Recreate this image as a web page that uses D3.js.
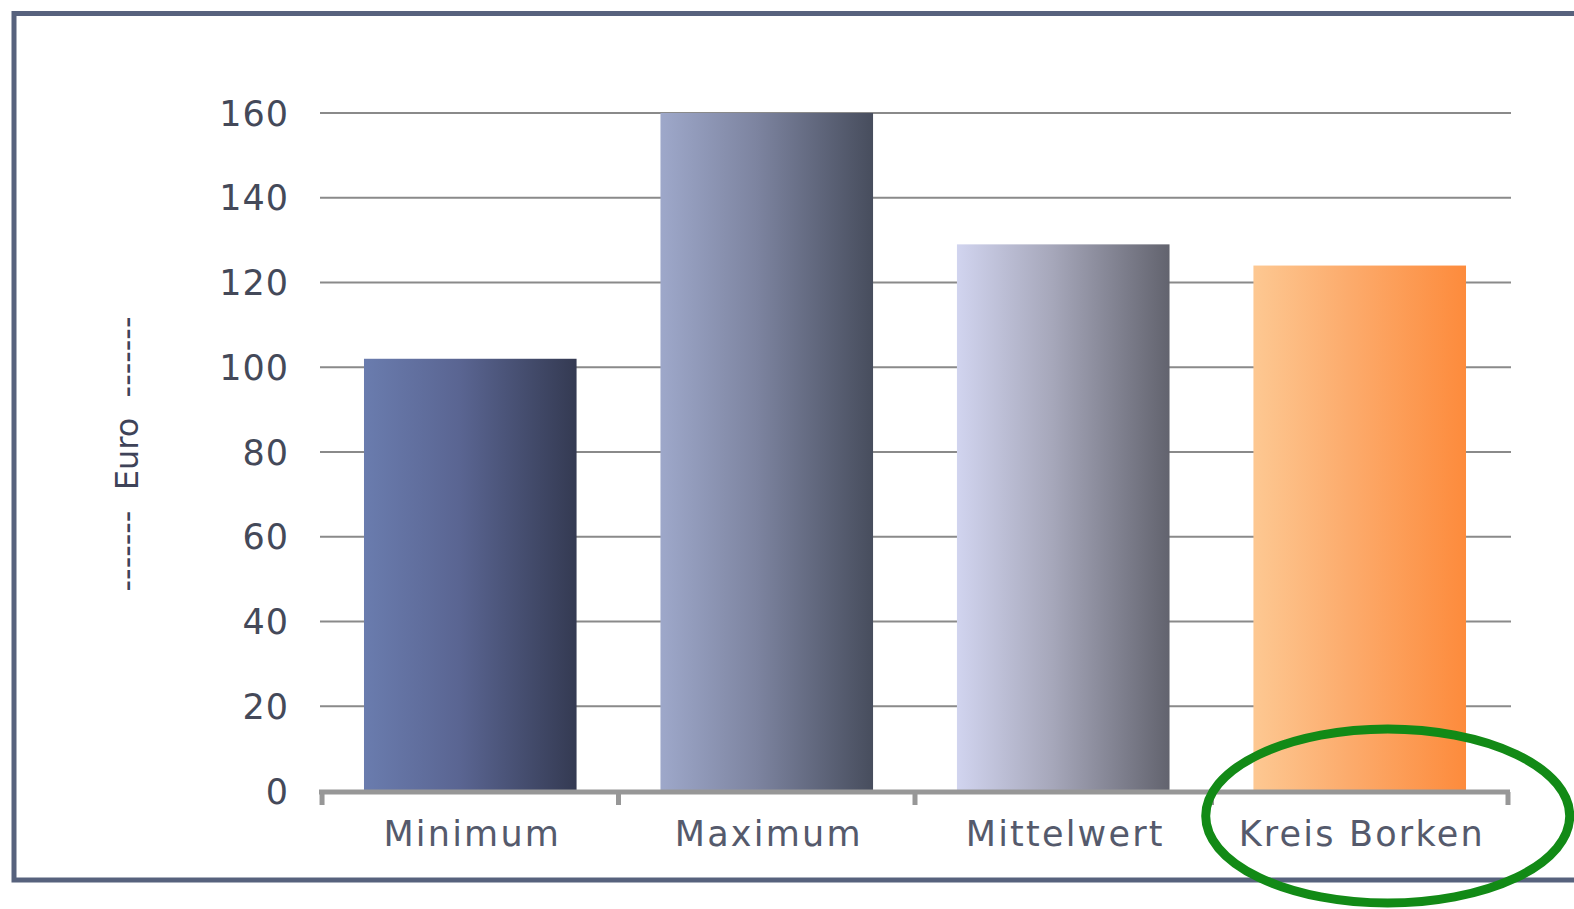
<!DOCTYPE html>
<html>
<head>
<meta charset="utf-8">
<script src="https://cdn.jsdelivr.net/npm/d3@7"></script>
<style>
  html, body { margin: 0; padding: 0; background: #fff; }
  svg { display: block; }
</style>
</head>
<body>
<svg id="chart" width="1574" height="909"></svg>
<script>
// Values (Euro) per category
const categories = ["Minimum", "Maximum", "Mittelwert", "Kreis Borken"];
const values = [102, 160, 129, 124];
const yTicks = [0, 20, 40, 60, 80, 100, 120, 140, 160];
const yLabel = "-------\u00a0\u00a0Euro\u00a0\u00a0-------";
// Horizontal gradient stops (left, middle, right) per bar
const barStops = [
  ["#6a7cae", "#5a6592", "#343a52"],
  ["#9ea8ca", "#7d84a0", "#474d5d"],
  ["#d1d4ef", "#a6a7ba", "#62636e"],
  ["#fdc892", "#fcab6c", "#fd8b3c"]
];

const svg = d3.select("#chart");
const font = "'DejaVu Sans', Verdana, sans-serif";

// Outer frame
svg.append("rect")
  .attr("x", 14).attr("y", 13.5)
  .attr("width", 1600).attr("height", 866.5)
  .attr("fill", "none")
  .attr("stroke", "#57627d")
  .attr("stroke-width", 5);

const x = d3.scaleBand().domain(categories).range([321, 1509]).paddingInner(0.283).paddingOuter(0.145);
const y = d3.scaleLinear().domain([0, 160]).range([791, 113]);

// Gradients
const defs = svg.append("defs");
barStops.forEach((s, i) => {
  const g = defs.append("linearGradient").attr("id", "bar" + i)
    .attr("x1", "0%").attr("x2", "100%").attr("y1", "0%").attr("y2", "0%");
  g.append("stop").attr("offset", "0%").attr("stop-color", s[0]);
  g.append("stop").attr("offset", "45%").attr("stop-color", s[1]);
  g.append("stop").attr("offset", "100%").attr("stop-color", s[2]);
});

// Gridlines
svg.append("g")
  .selectAll("line")
  .data(yTicks.filter(d => d > 0))
  .join("line")
  .attr("x1", 320).attr("x2", 1511)
  .attr("y1", d => y(d)).attr("y2", d => y(d))
  .attr("stroke", "#8a8a8a")
  .attr("stroke-width", 2);

// Bars
svg.append("g")
  .selectAll("rect")
  .data(categories)
  .join("rect")
  .attr("x", d => x(d))
  .attr("y", (d, i) => y(values[i]))
  .attr("width", x.bandwidth())
  .attr("height", (d, i) => y(0) - y(values[i]))
  .attr("fill", (d, i) => `url(#bar${i})`);

// Y tick labels
svg.append("g")
  .selectAll("text")
  .data(yTicks)
  .join("text")
  .attr("x", 289)
  .attr("y", d => y(d))
  .attr("dy", "0.36em")
  .attr("text-anchor", "end")
  .attr("font-family", font)
  .attr("font-size", 35)
  .attr("letter-spacing", 1)
  .attr("fill", "#444959")
  .text(d => d);

// X axis baseline with band separator ticks
const bandEdges = categories.map(c => x(c) - x.step() * x.paddingInner() / 2).concat([1508]);
const xAxis = svg.append("g");
xAxis.append("line")
  .attr("x1", 319).attr("x2", 1510)
  .attr("y1", 792).attr("y2", 792)
  .attr("stroke", "#979797")
  .attr("stroke-width", 5);
xAxis.selectAll("line.tick")
  .data(bandEdges)
  .join("line")
  .attr("class", "tick")
  .attr("x1", d => d).attr("x2", d => d)
  .attr("y1", 792).attr("y2", 805)
  .attr("stroke", "#979797")
  .attr("stroke-width", 5);

// X category labels
svg.append("g")
  .selectAll("text")
  .data(categories)
  .join("text")
  .attr("x", d => x(d) + x.bandwidth() / 2 + 2)
  .attr("y", 846)
  .attr("text-anchor", "middle")
  .attr("font-family", font)
  .attr("font-size", 35)
  .attr("letter-spacing", 2.2)
  .attr("fill", "#555a6c")
  .text(d => d);

// Y axis title
svg.append("text")
  .attr("transform", "translate(138,454) rotate(-90)")
  .attr("text-anchor", "middle")
  .attr("font-family", font)
  .attr("font-size", 32)
  .attr("fill", "#3e4358")
  .text(yLabel);

// Highlight ellipse around the regional value
svg.append("ellipse")
  .attr("cx", x("Kreis Borken") + x.bandwidth() / 2 + 28)
  .attr("cy", 816)
  .attr("rx", 182)
  .attr("ry", 87)
  .attr("fill", "none")
  .attr("stroke", "#128a16")
  .attr("stroke-width", 9);
</script>
</body>
</html>
